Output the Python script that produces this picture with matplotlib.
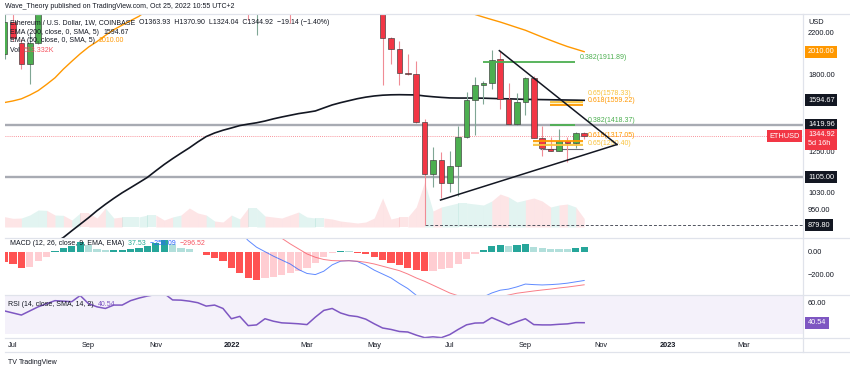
import matplotlib
matplotlib.use("Agg")
import matplotlib.pyplot as plt
from matplotlib.ticker import FixedLocator, FixedFormatter, NullLocator
from matplotlib.lines import Line2D

plt.rcParams["font.family"] = ["Liberation Sans", "DejaVu Sans"]

# ---------------- data (weekly, week 0 = 5 Jul 2021) ----------------
week_index = list(range(-1, 69))
opens = [1990, 2320, 2093, 1897, 2093, 2550, 3160, 3150, 3240, 3220,
         3950, 3430, 3400, 2920, 3420, 3410, 3850, 4060, 4290, 4610,
         4570, 4300, 4430, 4120, 3960, 3940, 4040, 3770, 3150, 3300,
         2540, 2690, 3060, 2880, 2630, 2600, 2560, 2580, 2950, 3470,
         3450, 3200, 3060, 2920, 2830, 2520, 2148, 2040, 1820, 1810,
         1435, 1125, 1200, 1074, 1166, 1337, 1598, 1718, 1732, 1940,
         1605, 1422, 1581, 1770, 1334, 1266, 1252, 1316, 1300, 1363.93]
highs = [2400, 2410, 2140, 2200, 2700, 3180, 3330, 3330, 3370, 4030,
         3970, 3680, 3440, 3490, 3650, 3900, 4380, 4460, 4670, 4870,
         4580, 4550, 4780, 4370, 4010, 4130, 4100, 3880, 3410, 3370,
         2790, 3080, 3280, 3200, 2900, 3040, 2760, 3050, 3480, 3580,
         3550, 3200, 3190, 3030, 2960, 2590, 2160, 2115, 1990, 1920,
         1460, 1274, 1245, 1250, 1410, 1660, 1785, 1750, 2030, 2020,
         1734, 1652, 1780, 1790, 1413, 1340, 1390, 1340, 1370, 1370.90]
lows = [1940, 2110, 1849, 1720, 2080, 2450, 3020, 2950, 3070, 3150,
        3020, 3350, 2650, 2740, 3310, 3380, 3720, 3900, 4140, 4500,
        3960, 4050, 3500, 3900, 3640, 3900, 3600, 3000, 3040, 2340,
        2180, 2590, 2880, 2580, 2300, 2540, 2450, 2520, 2900, 3360,
        3150, 2950, 2920, 2780, 2500, 1713, 1900, 1713, 1800, 1430,
        879.8, 1054, 1000, 1030, 1010, 1330, 1355, 1570, 1680, 1530,
        1420, 1420, 1490, 1330, 1226, 1250, 1250, 1190, 1270, 1324.04]
closes = [2320, 2142, 1897, 2093, 2550, 3160, 3150, 3240, 3220, 3950,
          3430, 3400, 2920, 3420, 3410, 3850, 4060, 4290, 4610, 4570,
          4300, 4430, 4120, 3960, 3940, 4040, 3770, 3150, 3300, 2540,
          2690, 3060, 2880, 2630, 2600, 2560, 2580, 2950, 3470, 3450,
          3200, 3060, 2920, 2830, 2520, 2148, 2040, 1820, 1810, 1435,
          1125, 1200, 1074, 1166, 1337, 1598, 1718, 1732, 1935, 1605,
          1422, 1581, 1770, 1334, 1268, 1252, 1316, 1300, 1364, 1344.92]
volume_k = [620, 520, 540, 720, 1020, 1000, 720, 700, 420, 840,
            840, 540, 1140, 540, 600, 600, 600, 720, 720, 420,
            600, 720, 1140, 840, 720, 360, 300, 720, 480, 1140,
            1140, 660, 600, 540, 720, 900, 600, 540, 540, 480,
            360, 300, 240, 300, 540, 1740, 480, 600, 600, 1200,
            2700, 960, 1200, 1320, 1440, 1440, 1380, 1320, 1560, 1980,
            1800, 1500, 1620, 1740, 1560, 1200, 1320, 1380, 1200, 513.332]
ema200 = [700, 715, 730, 748, 768, 790, 810, 830, 857, 884,
          912, 943, 972, 1000, 1027, 1052, 1078, 1105, 1140, 1175,
          1208, 1240, 1272, 1308, 1342, 1365, 1383, 1398, 1414, 1424,
          1433, 1445, 1460, 1473, 1485, 1497, 1506, 1516, 1538, 1560,
          1577, 1592, 1607, 1619, 1628, 1634, 1637, 1638, 1637, 1636,
          1628, 1622, 1617, 1613, 1612, 1612, 1612, 1611, 1609, 1607,
          1606, 1604, 1602, 1601, 1600, 1599, 1598, 1597, 1596, 1594.67]
ema50 = [1578, 1590, 1606, 1635, 1670, 1720, 1775, 1850, 1920, 1990,
         2055, 2109, 2172, 2232, 2281, 2330, 2379, 2450, 2520, 2590,
         2650, 2710, 2760, 2800, 2830, 2860, 2880, 2890, 2895, 2890,
         2880, 2875, 2870, 2860, 2850, 2840, 2830, 2825, 2825, 2825,
         2820, 2815, 2805, 2795, 2780, 2750, 2720, 2690, 2660, 2630,
         2590, 2560, 2530, 2500, 2470, 2440, 2400, 2370, 2342, 2315,
         2285, 2255, 2226, 2190, 2155, 2122, 2090, 2060, 2035, 2010]
macd_hist = [-95, -114, -150, -135, -84, -45, 10, 30, 50, 90,
             57, 20, 12, 15, 18, 24, 36, 50, 75, 105,
             68, 36, 21, -5, -30, -54, -84, -150, -189, -233,
             -254, -233, -224, -212, -194, -173, -143, -99, -45, -9,
             9, 9, -9, -24, -45, -75, -99, -123, -150, -160,
             -173, -172, -158, -150, -114, -63, -18, 15, 50, 57,
             50, 57, 72, 45, 30, 24, 24, 24, 33, 37.53]
macd_line = [350, 300, 250, 215, 210, 230, 260, 290, 310, 350,
             370, 370, 345, 340, 340, 360, 390, 425, 465, 490,
             480, 475, 460, 430, 395, 370, 330, 255, 180, 100,
             40, 0, -40, -75, -110, -160, -195, -205, -175, -118,
             -85, -80, -88, -120, -165, -200, -235, -285, -330, -390,
             -460, -500, -530, -540, -520, -480, -440, -405, -370, -345,
             -335, -315, -290, -295, -298, -295, -290, -282, -270, -258.09]
signal_line = [445, 414, 400, 350, 294, 275, 250, 260, 260, 260,
               313, 350, 333, 325, 322, 336, 354, 375, 390, 385,
               412, 439, 439, 435, 425, 424, 414, 405, 369, 333,
               294, 233, 184, 120, 70, 25, -20, -50, -70, -80,
               -82, -82, -85, -95, -110, -130, -150, -170, -200, -235,
               -265, -300, -335, -370, -395, -410, -420, -420, -415, -405,
               -388, -372, -362, -352, -343, -335, -325, -317, -307, -296.52]
rsi = [52, 50, 48, 52, 56, 59, 62, 61.5, 61, 67,
       59, 56, 54.4, 57.7, 57.7, 62, 64.5, 66.5, 68, 69,
       62.7, 62.5, 61.5, 60, 56.7, 57.7, 54.4, 44.4, 46.7, 37.7,
       38.4, 44.4, 42, 40.4, 40, 39.5, 38.7, 46, 52.5, 54.4,
       50, 47.5, 46.5, 44, 39.5, 35.4, 34, 32, 31.5, 28.5,
       26, 26.8, 26, 29, 34, 38.5, 40.2, 40.4, 45.5, 42,
       38.4, 41.5, 44.4, 38.7, 38.4, 38.4, 39, 39.4, 40.6, 40.54]

tick_weeks = [0, 9, 17, 26, 35, 43, 52, 61, 70, 78, 87]
tick_labels = ["Jul", "Sep", "Nov", "2022", "Mar", "May", "Jul", "Sep", "Nov", "2023", "Mar"]
price_ticks = [2200, 1800, 1250, 1030, 950]
macd_ticks = [0, -200]
rsi_ticks = [60]

support_levels = [1419.96, 1105.00]
last_price = 1344.92
low_price = 879.80
low_week = 49

fib_levels = [1911.89, 1418.37, 1578.33, 1559.22, 1317.05, 1290.40]
fib_names = ["0.382(1911.89)", "0.382(1418.37)", "0.65(1578.33)",
             "0.618(1559.22)", "0.618(1317.05)", "0.65(1290.40)"]
fib_from = [55.9, 63.9, 63.9, 63.9, 61.9, 61.9]
fib_to = [66.9, 66.9, 67.9, 67.9, 67.9, 67.9]
fib_label_at = [67.5, 68.45, 68.45, 68.45, 68.45, 68.45]
pocket_pairs = [(1559.22, 1578.33, 63.9, 67.9), (1290.40, 1317.05, 61.9, 67.9)]
range_floor = (1262, 62.7, 67.9)

tri_upper_w = [57.9, 71.9]
tri_upper_p = [2020, 1292]
tri_lower_w = [50.9, 71.9]
tri_lower_p = [992, 1292]

# ---------------- layout ----------------
W, H = 850, 371
fig = plt.figure(figsize=(W / 100, H / 100), dpi=100)
fig.patch.set_facecolor("white")

def fx(px):
    return px / W

def fy(py):
    return 1 - py / H

L, R = 5, 803
T_MAIN, B_MAIN, B_MACD, B_RSI, B_TIME = 14, 237.5, 295, 337.5, 352
TXT = "#131722"
GRID = "#E0E3EB"
FS = 5.3

ax = fig.add_axes([fx(L), fy(B_MAIN), fx(R) - fx(L), (B_MAIN - T_MAIN) / H])
axv = ax.twinx()
axv.set_zorder(ax.get_zorder() - 1)
ax.patch.set_visible(False)
axm = fig.add_axes([fx(L), fy(B_MACD), fx(R) - fx(L), (B_MACD - B_MAIN) / H], sharex=ax)
axr = fig.add_axes([fx(L), fy(B_RSI), fx(R) - fx(L), (B_RSI - B_MACD) / H], sharex=ax)

XMIN, XMAX = -0.95, 94.05
for a in (ax, axm, axr, axv):
    for s in a.spines.values():
        s.set_visible(False)
ax.set_xlim(XMIN, XMAX)

# ---------------- main price panel ----------------
ax.set_yscale("log")
ax.set_ylim(830, 2405)
ax.yaxis.tick_right()
ax.yaxis.set_major_locator(FixedLocator(price_ticks))
ax.yaxis.set_major_formatter(FixedFormatter([f"{p:.2f}" for p in price_ticks]))
ax.yaxis.set_minor_locator(NullLocator())
ax.tick_params(axis="y", length=0, pad=3.6, labelsize=FS, labelcolor=TXT)
ax.tick_params(axis="x", length=0, labelbottom=False)

# volume (area, coloured vs previous close)
axv.set_ylim(-630, 12780)
axv.yaxis.set_visible(False)
vcol = []
for k in range(len(week_index)):
    prev = closes[k - 1] if k > 0 else opens[k]
    vcol.append("#22AB94" if closes[k] >= prev else "#F23645")
for k in range(1, len(week_index)):
    axv.fill_between([week_index[k - 1], week_index[k]], [volume_k[k - 1], volume_k[k]], 0,
                     color=vcol[k], alpha=0.13, lw=0)

# horizontal support lines
for lv in support_levels:
    ax.axhline(lv, color="#A8ABB3", lw=1.7, zorder=2)
ax.axhline(last_price, color="#F23645", lw=0.6, ls=(0, (1, 1.5)), alpha=0.7, zorder=2)
ax.hlines(low_price, low_week, XMAX, colors="#50535E", lw=0.7, ls=(0, (3, 2)), zorder=2)

# moving averages
ax.plot(week_index, ema200, color="#131722", lw=1.2, zorder=3)
ax.plot(week_index, ema50, color="#FF9800", lw=1.0, zorder=3)

# candles
for w, o, h, l, c in zip(week_index, opens, highs, lows, closes):
    up = c >= o
    body = "#4CAF50" if up else "#F23645"
    wick = "#7FA694" if up else "#F08C95"
    ax.vlines(w, l, h, colors=wick, lw=0.8, zorder=4)
    lo, hi = min(o, c), max(o, c)
    ax.bar(w, hi - lo, bottom=lo, width=0.66, color=body, edgecolor="#3A3A3A", lw=0.45, zorder=5)

# fibonacci levels
fib_col = {"0.382": "#4CAF50", "0.618": "#FF9800", "0.65": "#F9C23C"}
fib_label_dy = {"0.65(1578.33)": 3.6, "0.65(1290.40)": -1.6}
for lo_p, hi_p, s, e in pocket_pairs:
    ax.fill_between([s, e], lo_p, hi_p, color="#FFE98A", alpha=0.45, lw=0, zorder=3)
ax.hlines(range_floor[0], range_floor[1], range_floor[2], colors="#6A6D78", lw=0.8, zorder=3)
for p, n, s, e, lx in zip(fib_levels, fib_names, fib_from, fib_to, fib_label_at):
    c = fib_col[n.split("(")[0]]
    ax.hlines(p, s, e, colors=c, lw=1.3, zorder=6)
    ax.annotate(n, xy=(lx, p), xytext=(0, fib_label_dy.get(n, 0.8)), textcoords="offset points",
                ha="left", va="bottom", color=c, fontsize=5.0, zorder=7)

# triangle
ax.plot(tri_upper_w, tri_upper_p, color="#131722", lw=1.1, zorder=7)
ax.plot(tri_lower_w, tri_lower_p, color="#131722", lw=1.1, zorder=7)

def axis_tag(a, y, text, fc):
    a.annotate(text, xy=(1, y), xycoords=("axes fraction", "data"), xytext=(3.6, 0),
               textcoords="offset points", ha="left", va="center", fontsize=FS,
               color="white", bbox=dict(boxstyle="square,pad=0.35", fc=fc, ec="none"),
               annotation_clip=False, zorder=20)

axis_tag(ax, ema50[-1], f"{ema50[-1]:.2f}", "#FF9800")
axis_tag(ax, ema200[-1], f"{ema200[-1]:.2f}", "#131722")
for lv in support_levels:
    axis_tag(ax, lv, f"{lv:.2f}", "#131722")
axis_tag(ax, low_price, f"{low_price:.2f}", "#131722")
ax.annotate(f"{last_price:.2f}\n5d 16h", xy=(1, last_price), xycoords=("axes fraction", "data"),
            xytext=(3.6, 3.6), textcoords="offset points", ha="left", va="top", fontsize=FS,
            color="white", linespacing=1.45,
            bbox=dict(boxstyle="square,pad=0.35", fc="#F23645", ec="none"),
            annotation_clip=False, zorder=20)
ax.annotate("ETHUSD", xy=(1, last_price), xycoords=("axes fraction", "data"),
            xytext=(-2.5, 0), textcoords="offset points", ha="right", va="center",
            fontsize=FS, color="white",
            bbox=dict(boxstyle="square,pad=0.35", fc="#F23645", ec="none"),
            annotation_clip=False, zorder=20)

# ---------------- MACD panel ----------------
axm.set_ylim(-388, 127)
axm.yaxis.tick_right()
axm.yaxis.set_major_locator(FixedLocator(macd_ticks))
axm.yaxis.set_major_formatter(FixedFormatter(["0.00", "\u2212200.00"]))
axm.tick_params(axis="y", length=0, pad=3.6, labelsize=FS, labelcolor=TXT)
axm.tick_params(axis="x", length=0, labelbottom=False)
hcol = []
for k, v in enumerate(macd_hist):
    prev = macd_hist[k - 1] if k > 0 else v
    if v >= 0:
        hcol.append("#26A69A" if v > prev else "#B2DFDB")
    else:
        hcol.append("#FFCDD2" if v > prev else "#FF5252")
axm.bar(week_index, macd_hist, width=0.86, color=hcol, lw=0, zorder=2)
axm.plot(week_index, macd_line, color="#2962FF", lw=0.7, alpha=0.75, zorder=3)
axm.plot(week_index, signal_line, color="#F7525F", lw=0.7, alpha=0.75, zorder=3)

# ---------------- RSI panel ----------------
axr.set_ylim(26.15, 67.5)
axr.axhspan(30, 70, color="#7E57C2", alpha=0.08, lw=0)
axr.plot(week_index, rsi, color="#7E57C2", lw=1.1, zorder=3)
axr.yaxis.tick_right()
axr.yaxis.set_major_locator(FixedLocator(rsi_ticks))
axr.yaxis.set_major_formatter(FixedFormatter(["60.00"]))
axr.tick_params(axis="y", length=0, pad=3.6, labelsize=FS, labelcolor=TXT)
axr.annotate(f"{rsi[-1]:.2f}", xy=(1, rsi[-1]), xycoords=("axes fraction", "data"),
             xytext=(3.6, 0), textcoords="offset points", ha="left", va="center",
             fontsize=FS, color="white",
             bbox=dict(boxstyle="square,pad=0.35", fc="#7E57C2", ec="none"),
             annotation_clip=False, zorder=20)
axr.xaxis.set_major_locator(FixedLocator(tick_weeks))
axr.xaxis.set_major_formatter(FixedFormatter(tick_labels))
axr.tick_params(axis="x", length=0, pad=3.0, labelsize=FS, labelcolor=TXT)
for lab in axr.get_xticklabels():
    if lab.get_text() in ("2022", "2023"):
        lab.set_fontweight("bold")

# ---------------- frame lines ----------------
def hline_px(y, x0=L, x1=W - 1):
    fig.add_artist(Line2D([fx(x0), fx(x1)], [fy(y), fy(y)], color=GRID, lw=0.9,
                          transform=fig.transFigure))

for yy in (T_MAIN, B_MAIN, B_MACD, B_RSI, B_TIME):
    hline_px(yy)
fig.add_artist(Line2D([fx(R), fx(R)], [fy(T_MAIN), fy(B_TIME)], color=GRID, lw=0.9,
                      transform=fig.transFigure))

# ---------------- texts ----------------
fig.text(fx(5), fy(7), "Wave_Theory published on TradingView.com, Oct 25, 2022 10:55 UTC+2",
         fontsize=5.0, color=TXT, va="center", ha="left")
fig.text(fx(808), fy(22), "USD", fontsize=FS, color=TXT, va="center", ha="left")

def chain(x, y, parts):
    t = fig.text(fx(x), fy(y), parts[0][0], fontsize=5.0, color=parts[0][1],
                 va="center", ha="left", zorder=30)
    for text, color in parts[1:]:
        t = fig.add_artist(plt.Annotation(text, xy=(1, 0.5), xycoords=t, xytext=(0, 0),
                                          textcoords="offset points", va="center", ha="left",
                                          fontsize=5.0, color=color, zorder=30))
    return t

chain(10, 23, [("Ethereum / U.S. Dollar, 1W, COINBASE  ", TXT),
               ("O1363.93  H1370.90  L1324.04  C1344.92  \u221219.14 (\u22121.40%)", TXT)])
chain(10, 32, [("EMA (200, close, 0, SMA, 5)  ", TXT), (f"{ema200[-1]:.2f}", TXT)])
chain(10, 41, [("EMA (50, close, 0, SMA, 5)  ", TXT), (f"{ema50[-1]:.2f}", "#FF9800")])
chain(10, 50, [("Vol  ", TXT), (f"{volume_k[-1]:.3f}K", "#F7525F")])
chain(10, 243.5, [("MACD (12, 26, close, 9, EMA, EMA)  ", TXT), (f"{macd_hist[-1]:.2f}  ", "#22AB94"),
                  (f"\u2212{abs(macd_line[-1]):.2f}  ", "#2962FF"),
                  (f"\u2212{abs(signal_line[-1]):.2f}", "#F7525F")])
chain(8, 305, [("RSI (14, close, SMA, 14, 2)  ", TXT), (f"{rsi[-1]:.2f}", "#7E57C2")])

chain(8, 362, [("TV ", TXT), ("TradingView", TXT)])

fig.savefig("out.png", dpi=100)
